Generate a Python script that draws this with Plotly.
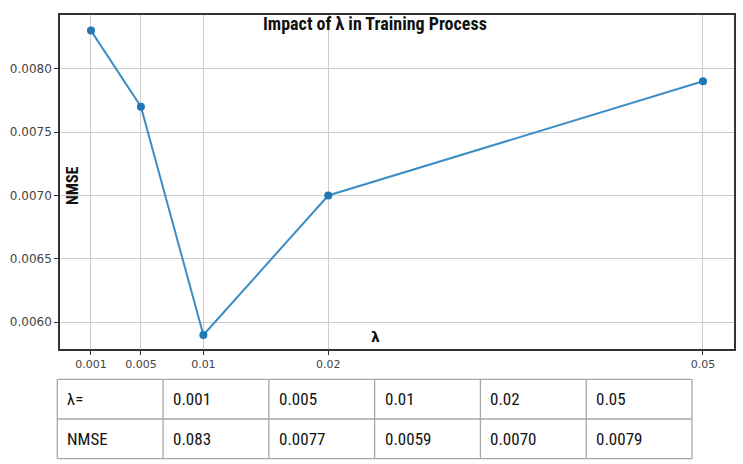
import plotly.graph_objects as go

lambdas = [0.001, 0.005, 0.01, 0.02, 0.05]
nmse = [0.0083, 0.0077, 0.0059, 0.0070, 0.0079]
x_tick_labels = ["0.001", "0.005", "0.01", "0.02", "0.05"]
y_ticks = [0.0060, 0.0065, 0.0070, 0.0075, 0.0080]
table_header = ["λ=", "0.001", "0.005", "0.01", "0.02", "0.05"]
table_row = ["NMSE", "0.083", "0.0077", "0.0059", "0.0070", "0.0079"]

W, H = 743, 464
cond = "Roboto Condensed, Liberation Sans Narrow, Roboto, sans-serif"

fig = go.Figure()
fig.add_trace(go.Scatter(
    x=lambdas, y=nmse, mode="lines+markers",
    line=dict(color="#3d8ec6", width=2),
    marker=dict(color="#1f77b4", size=8),
    showlegend=False, xaxis="x", yaxis="y",
))

# table drawn with shapes + annotations (pixel layout in paper fractions)
tx0, tx1 = 57.3, 692.0
ty0, ty1, ty2 = 379.3, 419.0, 458.7
ncol = len(table_header)
cw = (tx1 - tx0) / ncol
shapes = []
lc = dict(color="#a8a8a8", width=1.3)
for yy in (ty0, ty1, ty2):
    shapes.append(dict(type="line", xref="paper", yref="paper",
                       x0=tx0 / W, x1=tx1 / W, y0=1 - yy / H, y1=1 - yy / H, line=lc))
for i in range(ncol + 1):
    xx = tx0 + i * cw
    shapes.append(dict(type="line", xref="paper", yref="paper",
                       x0=xx / W, x1=xx / W, y0=1 - ty0 / H, y1=1 - ty2 / H, line=lc))

annotations = [
    dict(text="<b>Impact of λ in Training Process</b>", x=375 / W, y=1 - 24 / H,
         xref="paper", yref="paper", showarrow=False, xanchor="center", yanchor="middle",
         font=dict(family=cond, size=18, color="#111")),
    dict(text="<b>NMSE</b>", x=72 / W, y=1 - 186 / H, textangle=-90,
         xref="paper", yref="paper", showarrow=False, xanchor="center", yanchor="middle",
         font=dict(family=cond, size=16, color="#111")),
    dict(text="<b>λ</b>", x=375 / W, y=1 - 337 / H,
         xref="paper", yref="paper", showarrow=False, xanchor="center", yanchor="middle",
         font=dict(family="DejaVu Sans", size=14, color="#111")),
]
for r, row in enumerate((table_header, table_row)):
    yc = (ty0 + ty1) / 2 if r == 0 else (ty1 + ty2) / 2
    for i, v in enumerate(row):
        annotations.append(dict(
            text=v, x=(tx0 + i * cw + 8) / W, y=1 - yc / H,
            xref="paper", yref="paper", showarrow=False,
            xanchor="left", yanchor="middle",
            font=dict(family=cond, size=17, color="#111")))

fig.update_layout(
    width=W, height=H,
    margin=dict(l=0, r=0, t=0, b=0),
    paper_bgcolor="white", plot_bgcolor="white",
    shapes=shapes, annotations=annotations,
    xaxis=dict(
        domain=[60 / W, 733.7 / W], range=[-0.00148, 0.05246],
        tickvals=lambdas, ticktext=x_tick_labels,
        showgrid=True, gridcolor="#cccccc", gridwidth=1,
        showline=True, linecolor="#333333", linewidth=1.5, mirror=True,
        ticks="outside", ticklen=4, tickcolor="#333333",
        tickfont=dict(family="DejaVu Sans", size=11, color="#444444"),
        zeroline=False, automargin=False, anchor="y",
    ),
    yaxis=dict(
        domain=[1 - 349.3 / H, 1 - 15 / H], range=[0.005787, 0.008423],
        tickvals=y_ticks, tickformat=".4f",
        showgrid=True, gridcolor="#cccccc", gridwidth=1,
        showline=True, linecolor="#333333", linewidth=1.5, mirror=True,
        ticks="outside", ticklen=4, tickcolor="#333333",
        tickfont=dict(family="DejaVu Sans", size=12, color="#444444"),
        zeroline=False, automargin=False, anchor="x",
    ),
)

fig.write_html("out.html")
